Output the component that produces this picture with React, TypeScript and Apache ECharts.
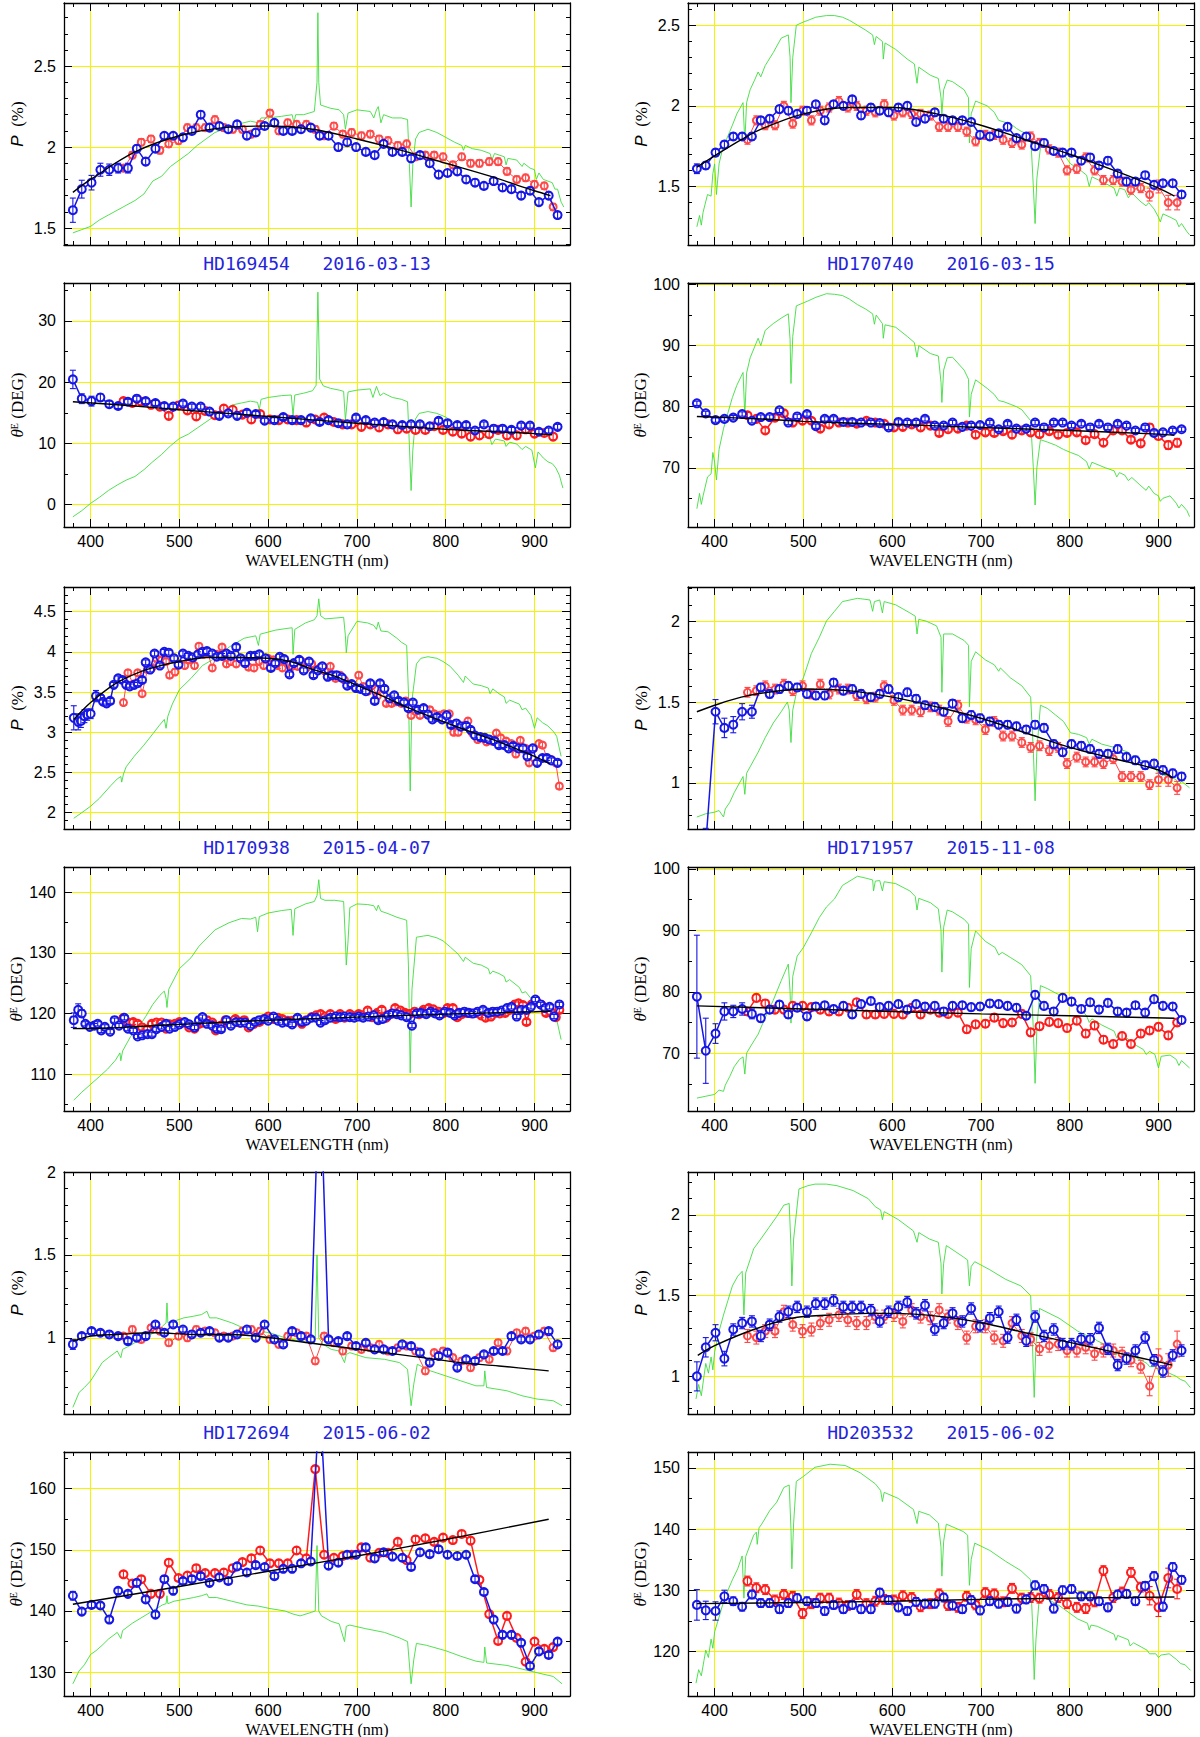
import { useEffect, useRef } from 'react';
import * as echarts from 'echarts';

type Pt = [number, number];

// wavelength grids (nm) of the two beams, used by the regular panels
const WL_BLUE = [380, 390, 401, 411, 421, 431, 442, 452, 462, 473, 483, 493, 504, 514, 524, 534, 545, 555, 565, 576, 586, 596, 607, 617, 627, 637, 648, 658, 668, 679, 689, 699, 710, 720, 730, 740, 751, 761, 771, 782, 792, 802, 813, 823, 833, 843, 854, 864, 874, 885, 895, 905, 916, 926];
const WL_RED = [437, 447, 457, 468, 478, 488, 499, 509, 519, 529, 540, 550, 560, 571, 581, 591, 602, 612, 622, 632, 643, 653, 663, 674, 684, 694, 705, 715, 725, 735, 746, 756, 766, 777, 787, 797, 808, 818, 828, 838, 849, 859, 869, 880, 890, 900, 911, 921];

// ---------- HD169454 2016-03-13 ----------
const L1_BLUE = [1.61, 1.74, 1.78, 1.86, 1.86, 1.87, 1.87, 1.99, 1.91, 1.99, 2.07, 2.07, 2.06, 2.10, 2.20, 2.12, 2.13, 2.11, 2.14, 2.07, 2.09, 2.13, 2.15, 2.10, 2.10, 2.11, 2.12, 2.07, 2.07, 2.00, 2.03, 2.00, 1.97, 1.95, 2.02, 1.97, 1.97, 1.93, 1.95, 1.90, 1.83, 1.84, 1.85, 1.80, 1.78, 1.76, 1.79, 1.75, 1.74, 1.70, 1.73, 1.66, 1.70, 1.58];
const L1_RED = [1.87, 1.95, 2.03, 2.05, 1.98, 2.02, 2.04, 2.12, 2.12, 2.12, 2.17, 2.12, 2.11, 2.11, 2.08, 2.14, 2.21, 2.10, 2.15, 2.14, 2.14, 2.11, 2.07, 2.13, 2.08, 2.09, 2.07, 2.08, 2.05, 2.04, 2.01, 2.02, 1.94, 1.95, 1.95, 1.94, 1.89, 1.94, 1.90, 1.90, 1.91, 1.91, 1.85, 1.80, 1.81, 1.77, 1.76, 1.63];
const L1_FIT: Pt[] = [[380, 1.72], [400, 1.80], [450, 1.97], [500, 2.07], [550, 2.12], [600, 2.13], [650, 2.11], [700, 2.05], [750, 1.98], [800, 1.90], [850, 1.82], [900, 1.73], [918, 1.70]];
const L1_GREEN: Pt[] = [[380, 1.47], [390, 1.49], [400, 1.51], [410, 1.55], [420, 1.58], [430, 1.61], [440, 1.64], [450, 1.67], [460, 1.71], [470, 1.79], [480, 1.82], [490, 1.88], [500, 1.92], [510, 1.96], [520, 2.01], [530, 2.05], [540, 2.09], [550, 2.11], [565, 2.14], [580, 2.16], [589, 2.15], [592, 2.18], [600, 2.18], [615, 2.19], [627, 2.20], [629, 2.15], [631, 2.20], [640, 2.20], [652, 2.22], [655, 2.40], [656, 2.83], [657, 2.40], [659, 2.26], [670, 2.24], [680, 2.23], [685, 2.20], [687, 2.11], [690, 2.21], [700, 2.23], [715, 2.22], [719, 2.18], [722, 2.23], [724, 2.25], [727, 2.15], [730, 2.20], [740, 2.18], [750, 2.18], [757, 2.17], [759, 1.90], [761, 1.63], [763, 1.90], [766, 2.05], [770, 2.09], [780, 2.11], [790, 2.09], [800, 2.06], [810, 2.03], [818, 2.01], [820, 1.98], [822, 2.01], [830, 1.99], [840, 1.98], [850, 1.96], [852, 1.92], [855, 1.96], [866, 1.94], [868, 1.89], [870, 1.93], [880, 1.92], [886, 1.88], [888, 1.90], [895, 1.87], [900, 1.86], [902, 1.80], [905, 1.84], [910, 1.80], [915, 1.79], [920, 1.78], [923, 1.74], [926, 1.74], [930, 1.66], [933, 1.63]];

const L2_BLUE = [20.45, 17.3, 16.9, 17.5, 16.4, 16.1, 16.8, 17.3, 16.9, 16.6, 16.1, 16.0, 16.5, 16.0, 16.0, 15.2, 14.5, 14.9, 14.5, 15.0, 14.8, 13.7, 13.8, 14.3, 13.8, 13.8, 14.1, 13.5, 13.8, 13.3, 13.1, 14.2, 13.8, 13.4, 13.5, 13.1, 13.0, 13.1, 13.1, 12.8, 13.7, 13.3, 13.0, 13.0, 12.1, 13.1, 12.4, 12.4, 12.2, 12.9, 12.9, 11.9, 12.1, 12.7];
const L2_RED = [16.9, 16.6, 16.8, 16.3, 16.0, 14.5, 16.2, 15.4, 14.4, 15.3, 14.6, 15.7, 15.5, 14.7, 13.9, 14.8, 13.9, 13.8, 13.9, 13.8, 13.4, 13.9, 14.2, 13.5, 13.1, 13.1, 12.7, 13.1, 12.6, 13.1, 12.3, 12.4, 12.2, 12.2, 12.8, 12.2, 11.9, 11.6, 11.1, 11.3, 11.5, 12.2, 11.3, 11.3, 12.3, 11.6, 11.7, 11.1];
const L2_FIT: Pt[] = [[380, 16.8], [450, 16.1], [500, 15.5], [600, 14.4], [700, 13.3], [800, 12.3], [900, 11.6], [920, 11.4]];
const L2_GREEN: Pt[] = [[380, -2.0], [390, -1.0], [400, 0.2], [410, 1.2], [420, 2.3], [430, 3.2], [440, 4.0], [450, 4.6], [460, 5.7], [470, 7.0], [480, 8.2], [490, 9.6], [500, 10.8], [510, 11.5], [520, 12.5], [530, 13.5], [540, 14.5], [550, 15.4], [560, 16.3], [570, 16.6], [580, 16.9], [588, 16.7], [590, 15.5], [592, 17.2], [600, 17.5], [615, 17.8], [626, 17.9], [628, 14.6], [630, 17.9], [640, 18.2], [650, 18.6], [654, 19.5], [656, 34.7], [658, 20.5], [662, 19.4], [670, 19.0], [680, 18.7], [685, 18.5], [687, 13.8], [690, 18.4], [700, 18.7], [715, 18.9], [718, 17.5], [722, 19.3], [726, 17.8], [730, 18.2], [740, 17.5], [750, 17.2], [757, 16.8], [759, 10.0], [761, 2.3], [763, 9.0], [766, 14.0], [770, 14.9], [780, 15.2], [790, 14.9], [800, 14.3], [810, 13.3], [818, 12.5], [820, 11.0], [823, 12.2], [830, 11.6], [840, 11.1], [850, 10.8], [852, 9.8], [856, 10.7], [866, 10.4], [868, 9.5], [872, 10.2], [880, 9.9], [886, 9.0], [890, 9.5], [897, 8.9], [901, 6.0], [904, 8.6], [910, 7.6], [915, 7.0], [920, 6.7], [924, 6.0], [928, 4.8], [932, 2.7]];

// ---------- HD170740 2016-03-15 ----------
const R1_BLUE = [1.61, 1.63, 1.71, 1.76, 1.81, 1.81, 1.81, 1.91, 1.92, 1.98, 1.97, 1.95, 1.97, 2.01, 1.91, 2.01, 2.00, 2.04, 1.94, 1.99, 1.97, 1.96, 1.99, 2.00, 1.90, 1.92, 1.96, 1.92, 1.91, 1.91, 1.90, 1.82, 1.81, 1.83, 1.87, 1.80, 1.81, 1.75, 1.77, 1.72, 1.71, 1.71, 1.66, 1.68, 1.63, 1.66, 1.58, 1.53, 1.53, 1.57, 1.51, 1.52, 1.52, 1.45];
const R1_RED = [1.79, 1.91, 1.88, 1.88, 2.00, 1.89, 1.97, 1.91, 1.97, 1.99, 2.03, 1.99, 2.00, 1.97, 1.96, 2.01, 1.94, 1.96, 1.95, 1.95, 1.94, 1.87, 1.87, 1.87, 1.84, 1.78, 1.82, 1.82, 1.79, 1.77, 1.76, 1.81, 1.77, 1.73, 1.71, 1.60, 1.61, 1.68, 1.60, 1.54, 1.54, 1.53, 1.48, 1.49, 1.45, 1.50, 1.40, 1.40];
const R1_FIT: Pt[] = [[380, 1.62], [400, 1.69], [430, 1.79], [450, 1.85], [500, 1.95], [550, 1.99], [600, 1.99], [650, 1.95], [700, 1.88], [750, 1.79], [800, 1.70], [850, 1.60], [900, 1.49], [918, 1.44]];
const R1_GREEN: Pt[] = [[380, 1.25], [383, 1.32], [385, 1.26], [387, 1.34], [392, 1.45], [396, 1.44], [398, 1.58], [400, 1.64], [402, 1.45], [405, 1.64], [410, 1.76], [414, 1.80], [417, 1.84], [420, 1.88], [425, 1.95], [430, 2.00], [432, 2.02], [434, 1.77], [436, 2.02], [440, 2.10], [445, 2.16], [449, 2.21], [452, 2.18], [457, 2.25], [466, 2.33], [475, 2.42], [483, 2.44], [485, 2.30], [486, 2.02], [488, 2.30], [492, 2.50], [500, 2.52], [505, 2.53], [514, 2.55], [526, 2.56], [535, 2.56], [544, 2.55], [552, 2.53], [561, 2.50], [570, 2.47], [578, 2.44], [580, 2.38], [582, 2.43], [589, 2.40], [590, 2.29], [592, 2.39], [604, 2.35], [617, 2.29], [625, 2.26], [628, 2.14], [630, 2.24], [643, 2.19], [652, 2.17], [655, 2.05], [656, 1.95], [658, 2.10], [662, 2.16], [668, 2.15], [681, 2.10], [686, 2.05], [687, 1.77], [689, 1.95], [694, 2.03], [707, 2.00], [715, 1.96], [720, 1.91], [726, 1.90], [733, 1.89], [740, 1.86], [746, 1.84], [756, 1.82], [759, 1.50], [761, 1.27], [763, 1.55], [767, 1.74], [775, 1.75], [784, 1.73], [793, 1.70], [801, 1.64], [810, 1.61], [819, 1.57], [822, 1.50], [825, 1.56], [840, 1.52], [850, 1.49], [853, 1.44], [856, 1.49], [862, 1.48], [866, 1.43], [870, 1.46], [879, 1.41], [886, 1.38], [889, 1.40], [895, 1.36], [900, 1.31], [902, 1.28], [905, 1.33], [913, 1.31], [920, 1.29], [923, 1.25], [926, 1.27], [932, 1.22], [935, 1.20]];

const R2_BLUE = [80.55, 78.9, 77.8, 78.0, 78.2, 78.8, 77.7, 78.3, 78.3, 79.4, 77.4, 78.4, 78.8, 76.8, 78.0, 78.0, 77.5, 77.5, 77.4, 77.4, 77.3, 76.6, 77.5, 77.4, 77.4, 78.0, 76.9, 76.9, 77.4, 76.7, 76.9, 77.0, 77.4, 76.3, 77.2, 76.4, 76.4, 77.4, 76.6, 77.4, 77.4, 76.9, 77.2, 76.6, 77.2, 76.6, 77.2, 76.9, 76.1, 76.6, 75.7, 75.8, 76.1, 76.3];
const R2_RED = [78.6, 78.0, 76.1, 78.2, 78.9, 77.4, 77.7, 77.7, 76.4, 77.1, 77.4, 77.4, 77.2, 77.7, 77.4, 77.2, 76.6, 76.7, 77.1, 76.6, 76.9, 75.7, 76.3, 76.4, 76.9, 75.4, 75.8, 75.7, 76.0, 75.4, 76.1, 75.8, 75.5, 76.0, 75.4, 75.7, 75.8, 74.5, 75.5, 74.1, 76.1, 76.1, 74.6, 74.0, 76.6, 75.2, 73.7, 74.1];
const R2_FIT: Pt[] = [[380, 78.4], [450, 78.0], [500, 77.6], [600, 77.1], [700, 76.6], [800, 76.1], [900, 75.5], [918, 75.3]];
const R2_GREEN: Pt[] = [[380, 63.3], [383, 65.8], [385, 64.0], [387, 65.4], [392, 68.5], [396, 69.0], [398, 72.5], [400, 70.9], [402, 68.0], [405, 73.0], [410, 76.4], [415, 79.0], [420, 81.5], [425, 83.5], [430, 85.0], [432, 85.6], [434, 78.5], [436, 85.5], [440, 88.0], [449, 91.2], [452, 90.0], [457, 92.5], [466, 93.6], [475, 94.5], [483, 95.2], [485, 91.0], [486, 83.8], [488, 91.5], [492, 96.5], [500, 97.0], [505, 97.3], [514, 97.9], [526, 98.5], [535, 98.4], [544, 98.2], [552, 97.6], [561, 96.7], [570, 96.0], [578, 95.2], [580, 93.5], [582, 95.0], [589, 93.6], [590, 91.2], [592, 93.4], [604, 93.0], [617, 91.5], [625, 90.5], [628, 88.1], [630, 90.0], [643, 88.7], [652, 88.3], [655, 84.0], [656, 80.7], [658, 86.0], [662, 88.0], [668, 88.1], [681, 86.0], [686, 84.5], [687, 78.3], [689, 82.0], [694, 84.4], [707, 83.0], [715, 82.0], [720, 81.0], [726, 80.8], [733, 80.4], [740, 80.0], [746, 79.5], [756, 77.7], [759, 70.0], [761, 63.9], [763, 70.0], [767, 74.6], [775, 74.2], [784, 73.7], [793, 73.0], [801, 72.5], [810, 72.0], [819, 71.0], [822, 69.8], [825, 70.9], [840, 70.0], [850, 69.5], [853, 68.5], [856, 69.2], [862, 68.8], [866, 67.9], [870, 68.4], [879, 67.2], [886, 66.3], [889, 67.0], [895, 65.8], [900, 65.4], [902, 64.5], [905, 65.0], [913, 65.4], [920, 64.2], [923, 63.4], [926, 64.0], [932, 63.0], [935, 62.0]];

// ---------- HD170938 2015-04-07 (finer sampling) ----------
const L3_BLUE: Pt[] = [[381, 3.18], [386, 3.13], [389, 3.14], [393, 3.20], [396, 3.22], [400, 3.23], [406, 3.45], [411, 3.43], [414, 3.38], [418, 3.36], [422, 3.39], [426, 3.59], [431, 3.67], [436, 3.65], [440, 3.59], [444, 3.57], [449, 3.59], [453, 3.61], [458, 3.65], [462, 3.87], [467, 3.78], [472, 3.98], [478, 3.83], [483, 4.00], [488, 3.99], [494, 3.92], [499, 3.84], [504, 3.98], [510, 3.95], [515, 3.93], [521, 3.97], [526, 4.00], [531, 4.01], [537, 3.98], [542, 3.94], [548, 3.95], [553, 3.98], [558, 3.95], [564, 4.06], [569, 3.92], [574, 3.86], [580, 3.95], [585, 3.95], [590, 3.97], [597, 3.92], [603, 3.80], [608, 3.86], [613, 3.94], [618, 3.91], [624, 3.72], [629, 3.86], [635, 3.90], [640, 3.77], [646, 3.88], [651, 3.71], [656, 3.77], [661, 3.82], [667, 3.69], [672, 3.71], [677, 3.71], [683, 3.68], [689, 3.58], [694, 3.60], [699, 3.55], [704, 3.54], [710, 3.51], [715, 3.61], [720, 3.39], [726, 3.61], [731, 3.54], [737, 3.42], [742, 3.46], [747, 3.39], [753, 3.37], [758, 3.30], [763, 3.37], [769, 3.28], [775, 3.30], [780, 3.22], [785, 3.16], [790, 3.19], [796, 3.16], [801, 3.21], [806, 3.09], [812, 3.11], [817, 3.07], [823, 3.08], [828, 3.03], [833, 2.96], [839, 2.94], [844, 2.93], [849, 2.91], [855, 2.89], [860, 2.84], [866, 2.84], [871, 2.80], [876, 2.83], [882, 2.80], [887, 2.80], [892, 2.70], [898, 2.80], [903, 2.62], [909, 2.68], [914, 2.68], [919, 2.65], [926, 2.62]];
const L3_RED: Pt[] = [[437, 3.37], [442, 3.74], [448, 3.60], [453, 3.74], [458, 3.48], [464, 3.78], [469, 3.80], [474, 3.92], [480, 3.90], [485, 3.88], [489, 3.71], [495, 3.75], [500, 3.85], [506, 3.83], [511, 3.90], [517, 3.83], [522, 4.07], [527, 3.97], [532, 3.99], [537, 3.80], [542, 3.97], [548, 4.06], [553, 3.85], [558, 3.88], [564, 3.85], [569, 3.92], [574, 3.88], [578, 3.81], [584, 3.80], [590, 3.88], [595, 3.83], [600, 3.92], [606, 3.90], [611, 3.83], [616, 3.80], [622, 3.85], [627, 3.82], [633, 3.82], [638, 3.88], [643, 3.80], [649, 3.85], [654, 3.78], [659, 3.81], [664, 3.76], [670, 3.82], [676, 3.67], [681, 3.71], [686, 3.65], [692, 3.59], [697, 3.57], [702, 3.71], [707, 3.57], [712, 3.51], [717, 3.58], [723, 3.45], [728, 3.55], [733, 3.36], [739, 3.36], [744, 3.38], [750, 3.36], [755, 3.39], [761, 3.21], [766, 3.26], [771, 3.21], [777, 3.28], [782, 3.28], [787, 3.23], [793, 3.21], [798, 3.23], [804, 3.23], [809, 3.00], [814, 3.00], [819, 3.08], [825, 3.14], [830, 2.99], [836, 2.91], [841, 2.93], [846, 2.88], [852, 2.89], [857, 2.99], [862, 2.93], [868, 2.89], [874, 2.86], [879, 2.73], [884, 2.90], [890, 2.80], [894, 2.62], [899, 2.80], [905, 2.86], [909, 2.84], [914, 2.68], [919, 2.66], [924, 2.62], [928, 2.33]];
const L3_FIT: Pt[] = [[381, 3.16], [400, 3.37], [427, 3.60], [453, 3.74], [479, 3.83], [500, 3.88], [530, 3.93], [556, 3.93], [600, 3.92], [625, 3.88], [651, 3.78], [677, 3.69], [701, 3.58], [729, 3.45], [759, 3.30], [800, 3.12], [830, 3.00], [860, 2.88], [900, 2.70], [917, 2.61]];
const L3_GREEN: Pt[] = [[381, 1.93], [390, 2.00], [400, 2.08], [410, 2.18], [423, 2.34], [430, 2.42], [434, 2.45], [435, 2.38], [437, 2.48], [440, 2.57], [449, 2.70], [460, 2.84], [470, 2.98], [477, 3.08], [483, 3.16], [485, 3.05], [487, 3.20], [492, 3.35], [500, 3.53], [513, 3.67], [526, 3.83], [543, 3.94], [556, 4.06], [573, 4.17], [586, 4.20], [589, 4.08], [591, 4.22], [608, 4.27], [620, 4.29], [627, 4.30], [628, 3.97], [630, 4.28], [642, 4.36], [652, 4.40], [655, 4.45], [657, 4.66], [659, 4.45], [664, 4.41], [675, 4.42], [685, 4.43], [687, 4.20], [688, 3.99], [690, 4.20], [700, 4.38], [712, 4.36], [719, 4.33], [722, 4.28], [724, 4.37], [727, 4.26], [735, 4.25], [745, 4.17], [750, 4.12], [756, 4.08], [758, 3.50], [760, 2.27], [762, 3.40], [767, 3.85], [772, 3.92], [780, 3.94], [790, 3.92], [797, 3.88], [805, 3.82], [814, 3.71], [820, 3.62], [822, 3.70], [831, 3.60], [840, 3.58], [848, 3.55], [850, 3.48], [853, 3.54], [860, 3.48], [866, 3.44], [868, 3.36], [872, 3.40], [883, 3.35], [886, 3.28], [890, 3.30], [896, 3.21], [900, 3.05], [903, 3.18], [909, 3.12], [915, 3.08], [922, 3.00], [925, 2.95], [930, 2.70]];

const L4_BLUE: Pt[] = [[381, 118.9], [386, 120.6], [390, 120.0], [394, 118.3], [399, 117.8], [404, 118.0], [408, 118.3], [412, 117.2], [416, 117.8], [422, 117.0], [427, 118.9], [432, 118.0], [438, 119.3], [442, 117.5], [448, 117.2], [453, 116.2], [458, 116.4], [464, 116.6], [469, 116.6], [474, 117.4], [480, 117.8], [485, 118.3], [489, 117.5], [495, 117.8], [500, 118.2], [506, 118.6], [511, 118.2], [517, 117.7], [522, 118.9], [526, 119.4], [531, 118.3], [537, 118.0], [542, 117.5], [547, 117.4], [553, 118.9], [558, 118.0], [564, 118.6], [569, 118.5], [574, 118.5], [580, 118.0], [585, 118.6], [590, 118.9], [596, 119.1], [600, 118.8], [606, 119.5], [611, 118.8], [616, 118.5], [622, 118.6], [627, 118.2], [633, 119.3], [638, 118.6], [643, 118.8], [649, 119.3], [654, 119.3], [659, 118.5], [664, 118.9], [670, 119.3], [676, 119.5], [681, 119.4], [686, 119.5], [692, 119.4], [697, 119.3], [702, 119.5], [707, 119.3], [713, 119.5], [719, 119.7], [724, 118.9], [729, 119.1], [735, 119.7], [740, 120.0], [745, 119.9], [750, 119.7], [756, 119.4], [762, 118.0], [767, 120.0], [772, 120.1], [778, 119.9], [783, 120.3], [788, 120.0], [793, 119.7], [799, 120.3], [805, 120.1], [810, 119.7], [815, 120.1], [821, 120.3], [826, 120.1], [831, 120.0], [836, 120.3], [842, 120.6], [848, 120.1], [853, 120.3], [858, 120.3], [863, 120.5], [869, 120.9], [874, 121.1], [880, 119.5], [885, 120.6], [891, 120.6], [896, 121.1], [901, 122.3], [907, 121.5], [912, 120.9], [917, 121.1], [922, 119.5], [928, 121.5]];
const L4_RED: Pt[] = [[437, 119.3], [442, 118.5], [448, 118.6], [453, 118.3], [458, 117.7], [464, 117.4], [469, 118.3], [474, 118.5], [480, 118.5], [485, 117.5], [489, 118.2], [495, 118.3], [500, 118.6], [506, 118.5], [511, 117.7], [517, 117.5], [522, 118.3], [526, 118.5], [531, 118.9], [537, 118.5], [541, 117.2], [547, 118.0], [552, 118.9], [557, 118.6], [563, 119.1], [568, 118.5], [573, 118.9], [578, 117.7], [584, 118.3], [590, 118.6], [595, 119.1], [600, 119.5], [606, 119.1], [611, 119.3], [616, 119.1], [622, 118.8], [627, 118.8], [633, 118.9], [638, 118.3], [643, 118.9], [649, 119.4], [654, 119.7], [659, 119.9], [664, 119.5], [670, 119.9], [676, 119.1], [681, 119.9], [686, 119.3], [692, 119.9], [697, 119.5], [702, 119.9], [707, 119.7], [712, 120.5], [717, 119.4], [723, 120.1], [728, 120.6], [733, 119.3], [739, 120.0], [743, 120.9], [749, 120.5], [754, 120.1], [759, 119.9], [765, 120.3], [770, 119.9], [775, 120.6], [781, 120.9], [786, 120.7], [792, 120.3], [797, 120.0], [802, 120.9], [808, 120.9], [813, 119.4], [818, 119.9], [824, 120.1], [829, 120.0], [835, 120.1], [840, 119.7], [845, 119.3], [851, 119.5], [856, 120.1], [861, 120.0], [867, 120.1], [872, 120.6], [878, 121.5], [882, 121.7], [887, 121.4], [891, 118.6], [897, 121.5], [902, 122.0], [908, 121.4], [913, 120.1], [918, 120.3], [924, 119.4], [928, 120.6]];
const L4_FIT: Pt[] = [[380, 117.5], [420, 117.6], [460, 117.9], [500, 118.2], [600, 118.9], [700, 119.4], [800, 119.9], [900, 120.3], [918, 120.4]];
const L4_GREEN: Pt[] = [[381, 105.7], [390, 107.0], [400, 108.3], [410, 109.6], [419, 110.8], [428, 112.3], [433, 113.5], [434, 112.2], [436, 113.8], [445, 116.2], [453, 117.5], [462, 119.5], [470, 121.5], [478, 123.0], [483, 123.7], [485, 122.5], [486, 121.0], [488, 124.0], [500, 127.4], [513, 129.2], [522, 131.1], [540, 133.8], [556, 135.0], [570, 135.7], [580, 135.6], [586, 135.9], [588, 133.5], [590, 136.0], [600, 136.6], [615, 137.0], [626, 137.2], [628, 132.9], [630, 137.3], [642, 138.1], [652, 138.5], [655, 139.5], [657, 142.1], [659, 139.0], [664, 138.7], [675, 138.7], [685, 138.5], [687, 132.0], [688, 128.0], [690, 132.0], [692, 137.5], [700, 138.1], [712, 138.0], [719, 137.8], [722, 137.0], [724, 137.9], [727, 136.9], [735, 136.5], [745, 135.9], [756, 135.4], [758, 128.0], [760, 110.2], [762, 124.0], [767, 132.6], [775, 132.8], [780, 132.9], [790, 132.5], [797, 132.0], [805, 131.0], [814, 129.8], [820, 128.6], [822, 129.3], [831, 128.3], [840, 128.0], [848, 127.4], [850, 126.5], [853, 127.0], [860, 126.6], [866, 126.1], [868, 125.2], [872, 125.6], [883, 124.3], [886, 123.4], [890, 123.6], [896, 122.5], [900, 121.5], [903, 122.0], [909, 121.8], [915, 121.0], [922, 120.0], [925, 119.0], [930, 115.7]];

// ---------- HD171957 2015-11-08 ----------
const R3_BLUE = [0.55, 0.62, 1.44, 1.34, 1.36, 1.44, 1.44, 1.59, 1.55, 1.58, 1.60, 1.59, 1.55, 1.54, 1.54, 1.62, 1.57, 1.58, 1.55, 1.53, 1.55, 1.58, 1.53, 1.56, 1.52, 1.48, 1.47, 1.44, 1.49, 1.40, 1.42, 1.40, 1.38, 1.36, 1.36, 1.35, 1.33, 1.36, 1.34, 1.24, 1.19, 1.24, 1.23, 1.21, 1.18, 1.18, 1.21, 1.16, 1.14, 1.11, 1.12, 1.08, 1.06, 1.04];
const R3_RED = [1.56, 1.57, 1.60, 1.58, 1.61, 1.57, 1.60, 1.55, 1.61, 1.55, 1.58, 1.58, 1.54, 1.52, 1.53, 1.60, 1.51, 1.45, 1.45, 1.44, 1.47, 1.45, 1.38, 1.48, 1.40, 1.39, 1.33, 1.38, 1.29, 1.29, 1.25, 1.22, 1.23, 1.20, 1.22, 1.12, 1.16, 1.13, 1.13, 1.12, 1.15, 1.04, 1.04, 1.04, 0.99, 1.02, 1.02, 0.97];
const R3_FIT: Pt[] = [[380, 1.44], [400, 1.48], [430, 1.53], [460, 1.56], [500, 1.58], [550, 1.57], [600, 1.53], [650, 1.47], [700, 1.40], [750, 1.31], [800, 1.22], [850, 1.15], [900, 1.08], [916, 1.03]];
const R3_GREEN: Pt[] = [[380, 0.79], [390, 0.81], [400, 0.82], [405, 0.83], [410, 0.79], [412, 0.84], [417, 0.88], [422, 0.94], [428, 1.00], [432, 1.04], [434, 0.93], [436, 1.06], [440, 1.10], [449, 1.19], [457, 1.28], [466, 1.37], [475, 1.44], [482, 1.50], [484, 1.45], [486, 1.25], [488, 1.45], [493, 1.58], [500, 1.65], [509, 1.80], [518, 1.90], [526, 2.00], [535, 2.06], [544, 2.12], [561, 2.14], [575, 2.13], [578, 2.06], [580, 2.12], [586, 2.13], [589, 2.05], [591, 2.12], [604, 2.10], [620, 2.05], [626, 2.03], [628, 1.92], [630, 2.01], [638, 2.00], [650, 1.97], [655, 1.90], [656, 1.56], [658, 1.92], [668, 1.92], [681, 1.88], [686, 1.85], [687, 1.47], [689, 1.75], [694, 1.81], [705, 1.76], [715, 1.73], [720, 1.69], [722, 1.71], [733, 1.65], [746, 1.60], [756, 1.53], [759, 1.20], [761, 0.89], [763, 1.20], [767, 1.48], [775, 1.46], [784, 1.42], [793, 1.38], [801, 1.31], [810, 1.30], [819, 1.28], [822, 1.24], [825, 1.27], [836, 1.24], [850, 1.22], [853, 1.18], [856, 1.21], [866, 1.19], [868, 1.15], [872, 1.17], [883, 1.13], [886, 1.10], [890, 1.11], [896, 1.09], [900, 1.06], [902, 1.03], [905, 1.05], [913, 1.04], [920, 1.02], [923, 0.99], [926, 1.01], [935, 0.97]];

const R4_BLUE = [79.2, 70.4, 73.2, 76.8, 76.8, 77.2, 76.4, 75.7, 77.1, 77.9, 76.3, 77.4, 76.0, 77.6, 77.8, 77.2, 77.7, 76.3, 78.0, 78.5, 77.5, 77.7, 78.0, 77.1, 78.0, 77.6, 77.7, 76.8, 77.7, 77.8, 77.5, 77.6, 78.1, 78.0, 77.7, 77.4, 76.1, 79.5, 77.7, 76.8, 79.0, 78.4, 77.2, 78.3, 77.1, 78.2, 76.8, 76.6, 77.8, 76.6, 78.8, 77.7, 77.6, 75.4];
const R4_RED = [76.8, 79.0, 78.1, 77.1, 77.1, 77.7, 77.7, 77.5, 77.1, 76.8, 76.8, 77.4, 78.3, 76.3, 76.3, 76.4, 76.4, 76.3, 77.4, 76.3, 77.1, 76.6, 76.4, 76.6, 73.9, 74.7, 74.8, 75.8, 74.9, 75.0, 76.4, 73.4, 74.4, 75.1, 74.9, 74.1, 75.3, 73.2, 74.5, 72.2, 71.5, 72.8, 71.5, 73.2, 73.7, 74.3, 72.9, 75.0];
const R4_FIT: Pt[] = [[380, 77.7], [500, 77.2], [600, 76.8], [700, 76.4], [800, 76.1], [918, 75.7]];
const R4_GREEN: Pt[] = [[380, 62.7], [390, 63.0], [400, 63.3], [405, 64.0], [410, 63.8], [412, 64.8], [417, 66.2], [422, 67.8], [428, 69.0], [432, 69.4], [434, 66.6], [436, 70.0], [440, 71.0], [449, 73.1], [457, 75.8], [466, 78.6], [475, 81.8], [483, 84.5], [485, 80.0], [486, 74.9], [488, 82.5], [493, 85.8], [500, 87.2], [509, 89.6], [518, 92.1], [526, 93.8], [535, 95.1], [544, 97.3], [561, 98.8], [570, 98.5], [578, 98.2], [579, 96.4], [581, 98.0], [586, 98.1], [589, 96.4], [591, 97.9], [604, 97.6], [620, 96.4], [626, 95.5], [628, 93.3], [630, 95.2], [643, 94.5], [652, 93.5], [655, 90.0], [656, 83.2], [658, 90.5], [662, 93.3], [668, 93.0], [681, 91.8], [686, 91.0], [687, 80.7], [689, 87.0], [694, 89.9], [705, 88.2], [716, 87.2], [720, 86.0], [724, 86.4], [733, 85.6], [746, 84.4], [756, 82.6], [759, 74.0], [761, 65.1], [763, 74.0], [767, 81.0], [775, 80.5], [784, 79.8], [793, 79.2], [801, 78.6], [810, 77.6], [819, 76.1], [822, 75.0], [825, 75.6], [836, 74.6], [850, 73.6], [853, 72.5], [856, 73.1], [866, 72.3], [868, 71.2], [872, 71.5], [883, 70.6], [886, 69.8], [890, 70.3], [896, 69.8], [900, 67.6], [903, 69.5], [913, 69.7], [920, 69.0], [923, 68.0], [926, 68.8], [935, 67.6]];

// ---------- HD172694 2015-06-02 ----------
const L5_BLUE = [0.96, 1.01, 1.04, 1.03, 1.02, 1.01, 0.98, 1.00, 1.01, 1.08, 1.03, 1.08, 1.05, 1.02, 1.03, 1.04, 1.00, 1.00, 1.02, 1.05, 1.00, 1.08, 0.99, 0.96, 1.04, 1.01, 0.99, 2.70, 0.99, 0.98, 1.01, 0.95, 0.97, 0.93, 0.93, 0.92, 0.96, 0.95, 0.91, 0.85, 0.89, 0.91, 0.82, 0.87, 0.86, 0.90, 0.92, 0.92, 1.01, 0.99, 0.99, 1.02, 1.04, 0.96];
const L5_RED = [1.01, 1.05, 0.99, 1.06, 1.04, 0.97, 1.01, 1.00, 1.05, 1.04, 1.03, 1.01, 1.01, 1.04, 1.05, 1.04, 0.99, 0.96, 1.01, 1.03, 1.01, 0.86, 1.01, 0.97, 0.92, 0.95, 0.93, 0.94, 0.96, 0.92, 0.94, 0.95, 0.92, 0.80, 0.91, 0.92, 0.88, 0.86, 0.82, 0.88, 0.87, 0.97, 0.92, 1.03, 1.04, 1.01, 1.04, 0.94];
const L5_FIT: Pt[] = [[380, 0.98], [400, 1.01], [430, 1.02], [473, 1.03], [516, 1.02], [559, 1.02], [602, 1.00], [645, 0.97], [688, 0.94], [731, 0.91], [774, 0.88], [817, 0.85], [860, 0.83], [916, 0.80]];
const L5_GREEN: Pt[] = [[380, 0.58], [387, 0.67], [393, 0.70], [400, 0.74], [406, 0.79], [413, 0.85], [420, 0.88], [430, 0.92], [434, 0.88], [436, 0.93], [447, 0.96], [455, 0.99], [464, 1.01], [475, 1.04], [481, 1.07], [485, 1.09], [486, 1.21], [487, 1.09], [494, 1.10], [505, 1.12], [516, 1.13], [525, 1.14], [531, 1.16], [534, 1.12], [542, 1.12], [559, 1.09], [576, 1.05], [589, 1.04], [602, 1.03], [619, 1.00], [636, 0.98], [649, 0.97], [653, 1.00], [655, 1.50], [657, 1.00], [662, 0.96], [671, 0.93], [680, 0.92], [686, 0.85], [688, 0.90], [692, 0.91], [710, 0.88], [731, 0.87], [748, 0.85], [757, 0.81], [759, 0.70], [761, 0.59], [764, 0.72], [768, 0.84], [783, 0.80], [800, 0.77], [817, 0.74], [834, 0.71], [843, 0.71], [844, 0.80], [846, 0.70], [869, 0.68], [886, 0.65], [903, 0.63], [921, 0.62], [931, 0.59]];

const L6_BLUE = [142.5, 139.9, 141.0, 140.9, 138.6, 143.3, 142.8, 144.6, 141.9, 139.4, 145.2, 143.3, 144.9, 145.2, 145.7, 144.6, 145.5, 144.9, 147.3, 146.3, 147.5, 147.2, 145.7, 146.9, 146.9, 147.8, 148.1, 175.0, 147.4, 147.9, 149.2, 149.2, 150.4, 148.6, 149.6, 148.9, 148.7, 147.2, 149.6, 149.3, 150.1, 149.2, 149.0, 149.2, 145.2, 143.1, 138.6, 136.1, 136.1, 134.8, 131.0, 133.4, 132.8, 135.0];
const L6_RED = [146.0, 144.5, 145.2, 142.8, 142.8, 147.9, 145.4, 145.8, 147.0, 146.2, 146.2, 146.3, 147.0, 148.0, 148.6, 149.9, 147.8, 147.8, 147.8, 149.9, 148.6, 163.2, 149.2, 148.7, 149.0, 149.2, 150.4, 148.7, 149.5, 149.5, 151.3, 148.3, 151.7, 151.9, 151.3, 152.0, 151.6, 152.6, 151.5, 145.1, 139.5, 135.1, 139.2, 135.6, 131.7, 135.0, 133.8, 134.1];
const L6_FIT: Pt[] = [[380, 141.1], [500, 144.0], [600, 146.5], [700, 149.0], [800, 151.7], [916, 155.0]];
const L6_GREEN: Pt[] = [[380, 128.1], [387, 130.2], [393, 131.2], [400, 132.9], [406, 133.5], [413, 134.4], [420, 135.4], [430, 136.5], [434, 135.5], [436, 136.8], [447, 138.0], [464, 139.5], [481, 141.0], [485, 141.2], [486, 142.5], [487, 141.2], [494, 141.6], [516, 142.2], [525, 142.5], [531, 142.8], [533, 142.2], [542, 142.2], [559, 141.6], [576, 141.0], [589, 140.8], [602, 140.4], [619, 140.0], [628, 139.5], [636, 139.2], [649, 139.8], [653, 140.0], [655, 150.7], [657, 140.0], [660, 139.2], [671, 138.3], [680, 137.9], [686, 135.0], [688, 137.5], [692, 137.7], [710, 137.1], [731, 136.5], [748, 135.6], [757, 135.0], [759, 131.5], [761, 128.1], [764, 132.0], [767, 134.7], [778, 134.4], [800, 133.5], [817, 132.6], [834, 131.8], [843, 131.6], [844, 134.1], [846, 131.5], [869, 131.1], [886, 130.5], [903, 129.9], [921, 129.3], [931, 128.1]];

// ---------- HD203532 2015-06-02 ----------
const R5_BLUE = [1.00, 1.18, 1.27, 1.11, 1.29, 1.33, 1.34, 1.25, 1.32, 1.37, 1.40, 1.43, 1.40, 1.45, 1.45, 1.47, 1.43, 1.43, 1.43, 1.41, 1.34, 1.40, 1.43, 1.46, 1.39, 1.44, 1.29, 1.33, 1.39, 1.34, 1.42, 1.31, 1.36, 1.40, 1.24, 1.35, 1.22, 1.37, 1.25, 1.29, 1.20, 1.20, 1.23, 1.23, 1.30, 1.17, 1.07, 1.11, 1.16, 1.24, 1.10, 1.03, 1.13, 1.16];
const R5_RED = [1.25, 1.24, 1.28, 1.28, 1.40, 1.32, 1.28, 1.29, 1.33, 1.35, 1.38, 1.35, 1.33, 1.33, 1.37, 1.37, 1.38, 1.34, 1.41, 1.37, 1.36, 1.41, 1.37, 1.33, 1.24, 1.31, 1.31, 1.24, 1.22, 1.33, 1.25, 1.23, 1.17, 1.19, 1.20, 1.16, 1.16, 1.18, 1.14, 1.16, 1.16, 1.14, 1.10, 1.06, 0.94, 1.11, 1.07, 1.20];
const R5_FIT: Pt[] = [[381, 1.13], [400, 1.19], [444, 1.29], [487, 1.36], [530, 1.38], [573, 1.39], [600, 1.39], [656, 1.37], [702, 1.33], [750, 1.27], [800, 1.21], [850, 1.15], [900, 1.09], [915, 1.07]];
const R5_GREEN: Pt[] = [[379, 0.86], [382, 0.95], [385, 0.88], [388, 1.00], [390, 1.08], [393, 1.02], [396, 1.12], [398, 1.04], [400, 1.15], [405, 1.28], [410, 1.38], [415, 1.47], [420, 1.56], [426, 1.62], [431, 1.65], [433, 1.38], [435, 1.64], [444, 1.79], [452, 1.85], [461, 1.92], [470, 1.99], [478, 2.06], [484, 2.07], [486, 1.80], [487, 1.56], [489, 1.85], [495, 2.16], [505, 2.18], [513, 2.19], [526, 2.19], [538, 2.18], [556, 2.15], [573, 2.10], [581, 2.05], [587, 2.03], [589, 1.97], [591, 2.02], [607, 1.97], [624, 1.90], [628, 1.83], [630, 1.89], [642, 1.85], [652, 1.83], [655, 1.70], [656, 1.51], [658, 1.70], [661, 1.81], [680, 1.74], [685, 1.72], [687, 1.56], [689, 1.68], [693, 1.71], [710, 1.66], [728, 1.60], [745, 1.56], [756, 1.50], [758, 1.20], [760, 0.87], [762, 1.20], [766, 1.42], [788, 1.36], [809, 1.28], [820, 1.25], [822, 1.22], [824, 1.25], [831, 1.22], [850, 1.17], [852, 1.13], [854, 1.16], [866, 1.14], [868, 1.10], [870, 1.13], [887, 1.08], [890, 1.06], [897, 1.06], [900, 1.03], [903, 1.05], [912, 1.02], [920, 1.00], [925, 0.98], [930, 0.97], [936, 0.93]];

const R6_BLUE = [127.6, 126.7, 126.6, 129.0, 128.2, 127.3, 129.3, 127.9, 127.9, 126.9, 127.9, 128.7, 128.2, 127.9, 126.6, 127.6, 126.9, 127.6, 126.9, 126.9, 129.6, 128.4, 127.2, 126.6, 128.1, 127.8, 127.8, 128.8, 127.5, 126.9, 128.4, 126.7, 128.2, 127.8, 128.1, 127.0, 128.5, 130.8, 130.2, 127.0, 130.0, 130.2, 129.0, 129.0, 128.2, 127.2, 129.3, 129.4, 128.2, 130.7, 132.3, 127.3, 133.8, 131.7];
const R6_RED = [131.5, 130.4, 130.1, 128.4, 129.3, 129.0, 126.2, 127.8, 128.7, 128.7, 127.9, 127.5, 129.3, 127.8, 128.2, 128.5, 128.4, 129.1, 128.8, 127.3, 127.8, 129.4, 127.5, 127.2, 129.0, 127.6, 129.6, 129.4, 128.1, 130.3, 128.7, 128.8, 128.7, 129.3, 128.8, 127.8, 127.2, 127.0, 128.1, 133.2, 128.8, 129.7, 132.9, 130.5, 129.1, 127.2, 132.0, 130.2];
const R6_FIT: Pt[] = [[380, 127.8], [500, 128.0], [600, 128.2], [700, 128.5], [800, 128.7], [918, 128.9]];
const R6_GREEN: Pt[] = [[379, 114.8], [382, 117.0], [385, 116.0], [388, 118.5], [390, 120.2], [393, 119.0], [396, 122.0], [398, 120.5], [400, 123.2], [405, 125.6], [410, 128.1], [415, 130.0], [420, 131.7], [426, 133.5], [431, 135.6], [433, 128.7], [435, 135.5], [444, 139.0], [447, 139.5], [448, 137.5], [450, 140.2], [453, 140.8], [462, 143.0], [470, 144.4], [478, 146.8], [484, 147.2], [486, 140.0], [487, 133.5], [489, 141.0], [492, 147.8], [500, 148.6], [513, 150.1], [530, 150.6], [547, 150.4], [564, 149.2], [581, 147.4], [587, 146.3], [589, 144.5], [591, 146.0], [607, 145.0], [624, 143.2], [628, 140.9], [630, 142.9], [642, 142.3], [652, 141.0], [655, 137.0], [656, 132.3], [658, 138.0], [661, 140.8], [680, 139.6], [685, 139.0], [687, 130.8], [689, 135.0], [693, 137.7], [710, 136.5], [728, 134.7], [745, 133.2], [756, 131.7], [758, 125.0], [760, 115.4], [762, 122.0], [766, 129.3], [788, 127.5], [809, 125.3], [820, 124.6], [822, 123.5], [824, 124.3], [831, 124.1], [850, 122.8], [852, 121.8], [854, 122.6], [866, 121.9], [868, 120.9], [872, 121.4], [887, 120.2], [890, 119.6], [897, 119.6], [900, 119.0], [903, 119.4], [912, 119.6], [920, 118.7], [925, 118.0], [930, 117.8], [936, 116.9]];

const TITLES = [
  ['HD169454   2016-03-13', 'HD170740   2016-03-15'],
  ['HD170938   2015-04-07', 'HD171957   2015-11-08'],
  ['HD172694   2015-06-02', 'HD203532   2015-06-02'],
];

// layout
const COL_X = [64, 688];
const GRID_W = 506;
const ROW_Y = [3, 283, 587, 867, 1172, 1452];
const ROW_H = [242, 244, 242, 244, 242, 244];
const X_MIN = 370;
const X_MAX = 940;

const BLUE = '#1616e6';
const RED = '#ff1c1c';
const RED_LIGHT = '#ff4848';
const GREEN = '#3fdc3f';
const YELLOW = '#f4f400';
const TITLE_BLUE = '#2424dc';
const SERIF = '"Liberation Serif", "DejaVu Serif", serif';

interface Panel {
  col: number;
  row: number;
  theta: boolean;
  min: number;
  max: number;
  blue: Pt[];
  red: Pt[];
  fit: Pt[];
  green: Pt[];
  blueErr: number;
  blueHead?: number[];
  redErr: number;
  redTail?: number[];
}

const onGrid = (wl: number[], vals: number[]): Pt[] => vals.map((v, i) => [wl[i], v]);

const PANELS: Panel[] = [
  { col: 0, row: 0, theta: false, min: 1.395, max: 2.89, blue: onGrid(WL_BLUE, L1_BLUE), red: onGrid(WL_RED, L1_RED), fit: L1_FIT, green: L1_GREEN, blueErr: 0.02, blueHead: [0.075, 0.055, 0.045, 0.04, 0.035, 0.03, 0.03], redErr: 0.022 },
  { col: 0, row: 1, theta: true, min: -3.66, max: 36.2, blue: onGrid(WL_BLUE, L2_BLUE), red: onGrid(WL_RED, L2_RED), fit: L2_FIT, green: L2_GREEN, blueErr: 0.4, blueHead: [1.5, 0.8, 0.8, 0.6, 0.5], redErr: 0.5 },
  { col: 1, row: 0, theta: false, min: 1.137, max: 2.638, blue: onGrid(WL_BLUE, R1_BLUE), red: onGrid(WL_RED, R1_RED), fit: R1_FIT, green: R1_GREEN, blueErr: 0.022, blueHead: [0.03], redErr: 0.028, redTail: [0.04, 0.04, 0.045, 0.045] },
  { col: 1, row: 1, theta: true, min: 60.3, max: 100.25, blue: onGrid(WL_BLUE, R2_BLUE), red: onGrid(WL_RED, R2_RED), fit: R2_FIT, green: R2_GREEN, blueErr: 0.35, redErr: 0.45, redTail: [0.6, 0.6, 0.7, 0.7] },
  { col: 0, row: 2, theta: false, min: 1.797, max: 4.807, blue: L3_BLUE, red: L3_RED, fit: L3_FIT, green: L3_GREEN, blueErr: 0.03, blueHead: [0.15, 0.1, 0.08, 0.08, 0.07, 0.06, 0.07], redErr: 0.035 },
  { col: 0, row: 3, theta: true, min: 103.9, max: 144.2, blue: L4_BLUE, red: L4_RED, fit: L4_FIT, green: L4_GREEN, blueErr: 0.35, blueHead: [1.2, 1.0, 0.6], redErr: 0.4 },
  { col: 1, row: 2, theta: false, min: 0.716, max: 2.21, blue: onGrid(WL_BLUE, R3_BLUE), red: onGrid(WL_RED, R3_RED), fit: R3_FIT, green: R3_GREEN, blueErr: 0.025, blueHead: [0.1, 0.1, 0.075, 0.06, 0.05, 0.05, 0.04], redErr: 0.03, redTail: [0.04, 0.04, 0.04] },
  { col: 1, row: 3, theta: true, min: 60.6, max: 100.3, blue: onGrid(WL_BLUE, R4_BLUE), red: onGrid(WL_RED, R4_RED), fit: R4_FIT, green: R4_GREEN, blueErr: 0.6, blueHead: [10, 5.3, 1.6, 1.4, 1.0, 1.0, 0.8], redErr: 0.6 },
  { col: 0, row: 4, theta: false, min: 0.54, max: 2.0, blue: onGrid(WL_BLUE, L5_BLUE), red: onGrid(WL_RED, L5_RED), fit: L5_FIT, green: L5_GREEN, blueErr: 0.015, blueHead: [0.03], redErr: 0.02 },
  { col: 0, row: 5, theta: true, min: 126.1, max: 166, blue: onGrid(WL_BLUE, L6_BLUE), red: onGrid(WL_RED, L6_RED), fit: L6_FIT, green: L6_GREEN, blueErr: 0.45, blueHead: [0.7], redErr: 0.5 },
  { col: 1, row: 4, theta: false, min: 0.767, max: 2.265, blue: onGrid(WL_BLUE, R5_BLUE), red: onGrid(WL_RED, R5_RED), fit: R5_FIT, green: R5_GREEN, blueErr: 0.035, blueHead: [0.09, 0.06, 0.05, 0.045], redErr: 0.04, redTail: [0.06, 0.06, 0.07, 0.08] },
  { col: 1, row: 5, theta: true, min: 112.7, max: 152.6, blue: onGrid(WL_BLUE, R6_BLUE), red: onGrid(WL_RED, R6_RED), fit: R6_FIT, green: R6_GREEN, blueErr: 0.7, blueHead: [2.5, 1.5, 1.5, 1.0], redErr: 0.8, redTail: [1.5, 1.5, 1.6, 1.6] },
];

const withErr = (pts: Pt[], err: number, head: number[] = [], tail: number[] = []) =>
  pts.map(([x, y], i) => {
    const ti = i - (pts.length - tail.length);
    const e = i < head.length ? head[i] : ti >= 0 ? tail[ti] : err;
    return [x, y, e];
  });

const isMult = (v: number, step: number) => Math.abs(v / step - Math.round(v / step)) < 1e-6;

const LABEL_FONT = { fontFamily: '"Liberation Sans", Arial, sans-serif', fontSize: 16, color: '#000' };

function errorBars(color: string, data: number[][], axis: number, z: number) {
  return {
    type: 'custom',
    xAxisIndex: axis,
    yAxisIndex: axis,
    z,
    silent: true,
    data,
    encode: { x: 0, y: 1 },
    renderItem: (params: any, api: any) => {
      const x = api.value(0);
      const y = api.value(1);
      const e = api.value(2);
      const hi = api.coord([x, y + e]);
      const lo = api.coord([x, y - e]);
      const cs = params.coordSys;
      const y0 = Math.max(hi[1], cs.y);
      const y1 = Math.min(lo[1], cs.y + cs.height);
      if (!(y1 > y0)) return null;
      const style = { stroke: color, lineWidth: 1.1 };
      const kids: any[] = [{ type: 'line', shape: { x1: hi[0], y1: y0, x2: hi[0], y2: y1 }, style }];
      if (hi[1] >= cs.y) kids.push({ type: 'line', shape: { x1: hi[0] - 3, y1: hi[1], x2: hi[0] + 3, y2: hi[1] }, style });
      if (lo[1] <= cs.y + cs.height) kids.push({ type: 'line', shape: { x1: lo[0] - 3, y1: lo[1], x2: lo[0] + 3, y2: lo[1] }, style });
      return { type: 'group', children: kids };
    },
  };
}

function buildOption(): echarts.EChartsOption {
  const grid: any[] = [];
  const xAxis: any[] = [];
  const yAxis: any[] = [];
  const series: any[] = [];
  const line = { show: true, onZero: false, lineStyle: { color: '#000', width: 1.3 } };
  const noLine = { show: false, onZero: false };
  const majorTick = { show: true, inside: true, length: 8, lineStyle: { color: '#000', width: 1 } };
  const minorTick = { show: true, inside: true, length: 4, lineStyle: { color: '#000', width: 1 } };
  const off = { show: false };

  PANELS.forEach((p, i) => {
    grid.push({ left: COL_X[p.col], top: ROW_Y[p.row], width: GRID_W, height: ROW_H[p.row], containLabel: false, outerBoundsMode: 'none' });
    const major = p.theta ? 10 : 0.5;
    const minor = p.theta ? 5 : 0.1;
    const xb = { gridIndex: i, type: 'value', min: X_MIN, max: X_MAX };
    const yb = { gridIndex: i, type: 'value', min: p.min, max: p.max };

    xAxis.push({
      ...xb, position: 'bottom', minInterval: 100, maxInterval: 100,
      axisLine: line, axisTick: majorTick,
      axisLabel: { show: p.theta, showMinLabel: false, showMaxLabel: false, margin: 6, ...LABEL_FONT },
      splitLine: { show: true, lineStyle: { color: YELLOW, width: 1 } },
      name: p.theta ? 'WAVELENGTH (nm)' : '',
      nameLocation: 'middle', nameGap: 25,
      nameTextStyle: { fontFamily: SERIF, fontSize: 16, color: '#000' },
    });
    xAxis.push({ ...xb, position: 'top', minInterval: 100, maxInterval: 100, axisLine: line, axisTick: majorTick, axisLabel: off, splitLine: off });
    xAxis.push({ ...xb, position: 'bottom', minInterval: 20, maxInterval: 20, axisLine: noLine, axisTick: minorTick, axisLabel: off, splitLine: off });
    xAxis.push({ ...xb, position: 'top', minInterval: 20, maxInterval: 20, axisLine: noLine, axisTick: minorTick, axisLabel: off, splitLine: off });

    yAxis.push({
      ...yb, position: 'left', minInterval: major, maxInterval: major,
      axisLine: line, axisTick: majorTick,
      axisLabel: { show: true, showMinLabel: isMult(p.min, major), showMaxLabel: isMult(p.max, major), margin: 8, ...LABEL_FONT },
      splitLine: { show: true, lineStyle: { color: YELLOW, width: 1 } },
      name: p.theta ? '{t|θ}{e|E}{d| (DEG)}' : '{p|P}{d|  (%)}',
      nameLocation: 'middle', nameRotate: 90, nameGap: 38,
      nameTextStyle: {
        color: '#000',
        rich: {
          t: { fontFamily: SERIF, fontStyle: 'italic', fontSize: 17, color: '#000' },
          e: { fontFamily: SERIF, fontSize: 10, verticalAlign: 'top', color: '#000' },
          p: { fontFamily: '"Liberation Sans", sans-serif', fontStyle: 'italic', fontSize: 17, color: '#000' },
          d: { fontFamily: SERIF, fontSize: 17, color: '#000' },
        },
      },
    });
    yAxis.push({ ...yb, position: 'right', minInterval: major, maxInterval: major, axisLine: line, axisTick: majorTick, axisLabel: off, splitLine: off });
    yAxis.push({ ...yb, position: 'left', minInterval: minor, maxInterval: minor, axisLine: noLine, axisTick: minorTick, axisLabel: off, splitLine: off });
    yAxis.push({ ...yb, position: 'right', minInterval: minor, maxInterval: minor, axisLine: noLine, axisTick: minorTick, axisLabel: off, splitLine: off });

    const ax = i * 4;
    const redColor = p.theta ? RED : RED_LIGHT;
    const redWidth = p.theta ? 1.5 : 1;
    series.push({
      type: 'line', xAxisIndex: ax, yAxisIndex: ax, data: p.green, showSymbol: false, silent: true, z: 1,
      lineStyle: { color: GREEN, width: 0.9 },
    });
    series.push({
      type: 'line', xAxisIndex: ax, yAxisIndex: ax, data: p.red, silent: true, z: 2,
      symbol: 'emptyCircle', symbolSize: p.theta ? 8 : 7,
      itemStyle: { color: redColor, borderColor: redColor, borderWidth: redWidth },
      lineStyle: { color: redColor, width: redWidth },
    });
    series.push(errorBars(redColor, withErr(p.red, p.redErr, [], p.redTail), ax, 3));
    series.push({
      type: 'line', xAxisIndex: ax, yAxisIndex: ax, data: p.blue, silent: true, z: 4,
      symbol: 'emptyCircle', symbolSize: 8,
      itemStyle: { color: BLUE, borderColor: BLUE, borderWidth: 1.5 },
      lineStyle: { color: BLUE, width: 1.5 },
    });
    series.push(errorBars(BLUE, withErr(p.blue, p.blueErr, p.blueHead), ax, 5));
    series.push({
      type: 'line', xAxisIndex: ax, yAxisIndex: ax, data: p.fit, showSymbol: false, silent: true, z: 6,
      smooth: 0.35, lineStyle: { color: '#000', width: 1.4 },
    });
  });

  const graphic: any[] = [];
  TITLES.forEach((pair, k) => {
    const pRow = k * 2;
    pair.forEach((text, col) => {
      graphic.push({
        type: 'text',
        x: COL_X[col] + GRID_W / 2,
        y: ROW_Y[pRow] + ROW_H[pRow] + 18,
        silent: true,
        style: {
          text,
          fill: TITLE_BLUE,
          font: '18px "DejaVu Sans Mono", monospace',
          textAlign: 'center',
          textVerticalAlign: 'middle',
        },
      });
    });
  });

  return {
    animation: false,
    backgroundColor: '#fff',
    grid,
    xAxis,
    yAxis,
    series,
    graphic,
  } as echarts.EChartsOption;
}

export default function App() {
  const chartRef = useRef<HTMLDivElement>(null);

  useEffect(() => {
    document.body.style.margin = '0';
    if (!chartRef.current) return;
    const chart = echarts.init(chartRef.current, null, { renderer: 'svg' });
    chart.setOption(buildOption());
    return () => {
      chart.dispose();
    };
  }, []);

  return <div ref={chartRef} style={{ width: 1200, height: 1737 }} />;
}
